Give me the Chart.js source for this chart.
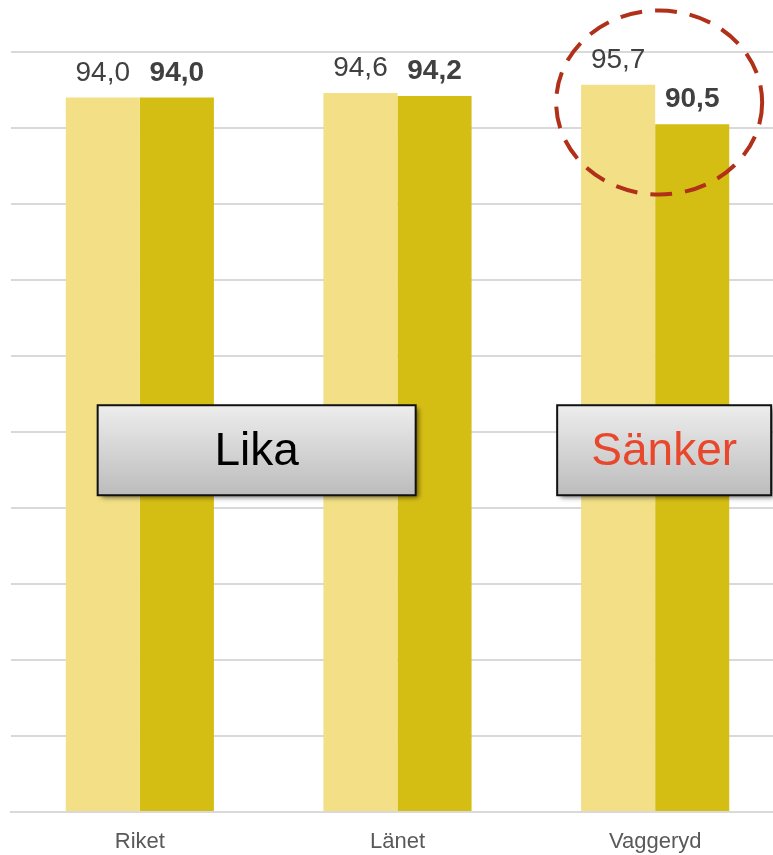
<!DOCTYPE html>
<html>
<head>
<meta charset="utf-8">
<script src="https://cdn.jsdelivr.net/npm/chart.js@4"></script>
<style>
  html, body { margin: 0; padding: 0; background: #fff; overflow: hidden; }
  #wrap { width: 773px; height: 855px; overflow: hidden; }
</style>
</head>
<body>
<div id="wrap"><canvas id="myChart" width="784" height="855"></canvas></div>
<script>
const categories = ['Riket', 'Länet', 'Vaggeryd']
const before = [94.0, 94.6, 95.7]
const after = [94.0, 94.2, 90.5]
const yTicks = [0, 10, 20, 30, 40, 50, 60, 70, 80, 90, 100]

const lightColor = '#F2DF86'
const darkColor = '#D5BE13'

function fmt(v) {
  return v.toFixed(1).replace('.', ',')
}

// value labels above the bars
const valueLabels = {
  id: 'valueLabels',
  afterDatasetsDraw(chart) {
    const ctx = chart.ctx
    ctx.save()
    ctx.textAlign = 'center'
    ctx.textBaseline = 'alphabetic'
    ctx.fillStyle = '#404040'
    chart.data.datasets.forEach((ds, di) => {
      const meta = chart.getDatasetMeta(di)
      ctx.font = (di === 1 ? 'bold ' : '') + '28px "Liberation Sans", Arial, sans-serif'
      meta.data.forEach((bar, i) => {
        ctx.fillText(fmt(ds.data[i]), bar.x, bar.y - 17)
      })
    })
    ctx.restore()
  }
}

// text boxes and dashed ellipse
const notes = {
  id: 'notes',
  afterDatasetsDraw(chart) {
    const ctx = chart.ctx
    const x = chart.scales.x
    const y = chart.scales.y

    function box(cx, cy, w, h, text, color) {
      const left = cx - w / 2
      const top = cy - h / 2
      ctx.save()
      ctx.shadowColor = 'rgba(0,0,0,0.55)'
      ctx.shadowBlur = 5
      ctx.shadowOffsetX = 3
      ctx.shadowOffsetY = 3
      const g = ctx.createLinearGradient(0, top, 0, top + h)
      g.addColorStop(0, '#ededed')
      g.addColorStop(1, '#bcbcbc')
      ctx.fillStyle = g
      ctx.fillRect(left, top, w, h)
      ctx.restore()
      ctx.save()
      ctx.strokeStyle = '#111'
      ctx.lineWidth = 2
      ctx.strokeRect(left, top, w, h)
      ctx.fillStyle = color
      ctx.font = '46px "Liberation Sans", Arial, sans-serif'
      ctx.textAlign = 'center'
      ctx.textBaseline = 'middle'
      ctx.fillText(text, cx, cy + 2)
      ctx.restore()
    }

    const midY = y.getPixelForValue(47.6)
    box((x.getPixelForValue(0) + x.getPixelForValue(1)) / 2 - 12, midY, 318, 90, 'Lika', '#000')
    box(x.getPixelForValue(2) + 9, midY, 214, 90, 'Sänker', '#E8472B')

    ctx.save()
    ctx.strokeStyle = '#B0301A'
    ctx.lineWidth = 4
    ctx.setLineDash([22, 13])
    ctx.beginPath()
    ctx.ellipse(x.getPixelForValue(2) + 4, y.getPixelForValue(93.35), 103, 92, 0, 0, Math.PI * 2)
    ctx.stroke()
    ctx.restore()
  }
}

const ctx = document.getElementById('myChart')
new Chart(ctx, {
  type: 'bar',
  data: {
    labels: categories,
    datasets: [
      { label: 'Före', data: before, backgroundColor: lightColor },
      { label: 'Efter', data: after, backgroundColor: darkColor }
    ]
  },
  options: {
    responsive: false,
    animation: false,
    events: [],
    categoryPercentage: 0.575,
    barPercentage: 1.0,
    layout: { padding: { left: 11, top: 52, right: 0, bottom: 0 } },
    plugins: { legend: { display: false }, tooltip: { enabled: false } },
    scales: {
      x: {
        grid: { display: false },
        border: { display: true, color: '#d9d9d9', width: 2 },
        ticks: {
          color: '#595959',
          padding: 9,
          font: { family: '"Liberation Sans", Arial, sans-serif', size: 22 }
        },
        afterFit: (s) => { s.height = 43 }
      },
      y: {
        min: 0,
        max: 100,
        afterBuildTicks: (s) => { s.ticks = yTicks.map(v => ({ value: v })) },
        grid: { color: '#d9d9d9', lineWidth: 2, drawTicks: false },
        border: { display: false },
        ticks: { display: false },
        afterFit: (s) => { s.width = 0 }
      }
    }
  },
  plugins: [valueLabels, notes]
})
</script>
</body>
</html>
